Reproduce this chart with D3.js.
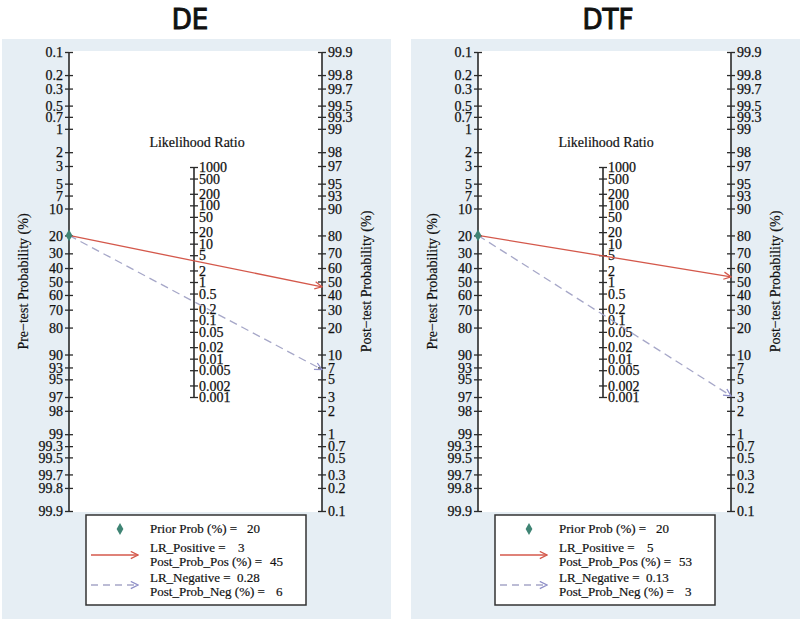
<!DOCTYPE html>
<html><head><meta charset="utf-8">
<script src="https://cdn.jsdelivr.net/npm/d3@7"></script>
<style>
html,body{margin:0;padding:0;background:#fff;}
svg{display:block;}
text{white-space:pre;}
</style></head>
<body>
<svg id="chart" width="800" height="623"></svg>
<script>
// ---- data ----
const panels = ["DE", "DTF"];
const priorProb = [20, 20];
const lrPositiveLabel = ["3", "5"];
const postProbPosLabel = ["45", "53"];
const lrNegativeLabel = ["0.28", "0.13"];
const postProbNegLabel = ["6", "3"];
// arrow end points (post-test %)
const postPosRead = [46, 53.5];
const postNegRead = [6.6, 3.1];

const preTicks = [0.1, 0.2, 0.3, 0.5, 0.7, 1, 2, 3, 5, 7, 10, 20, 30, 40, 50, 60, 70, 80, 90, 93, 95, 97, 98, 99, 99.3, 99.5, 99.7, 99.8, 99.9];
const postTicks = [99.9, 99.8, 99.7, 99.5, 99.3, 99, 98, 97, 95, 93, 90, 80, 70, 60, 50, 40, 30, 20, 10, 7, 5, 3, 2, 1, 0.7, 0.5, 0.3, 0.2, 0.1];
const lrTicks = [1000, 500, 200, 100, 50, 20, 10, 5, 2, 1, 0.5, 0.2, 0.1, 0.05, 0.02, 0.01, 0.005, 0.002, 0.001];

// ---- layout ----
const panelDx = [0, 409];
const titleX = [190, 608];
const xL = 69, xR = 322, xM = 194;
const yTop = 52, yBot = 511;
const lrTop = 167, lrBot = 397;
const axisColor = "#2a2a2a";
const serif = "'Liberation Serif','Times New Roman',serif";

const logit = p => Math.log((p / 100) / (1 - p / 100));

const svg = d3.select("#chart");

const defs = svg.append("defs");
function marker(id, color) {
  defs.append("marker").attr("id", id)
    .attr("viewBox", "0 0 10 10").attr("refX", 9).attr("refY", 5)
    .attr("markerWidth", 9).attr("markerHeight", 9)
    .attr("markerUnits", "userSpaceOnUse").attr("orient", "auto")
    .append("path").attr("d", "M1,1 L9,5 L1,9")
    .attr("fill", "none").attr("stroke", color).attr("stroke-width", 1.4);
}
const posColor = "#d4584b", negColor = "#a6a7c8", priorColor = "#3f8474";
marker("arrPos", posColor);
marker("arrNeg", "#8f8fc8");

const yPre = d3.scaleLinear().domain([logit(0.1), logit(99.9)]).range([yTop, yBot]);
const yPost = d3.scaleLinear().domain([logit(99.9), logit(0.1)]).range([yTop, yBot]);
const yLR = d3.scaleLog().domain([1000, 0.001]).range([lrTop, lrBot]);

function crossTicks(g, dir) {
  g.selectAll(".tick").append("line")
    .attr("x2", dir * 4).attr("stroke", axisColor).attr("stroke-width", 1.3);
}

panels.forEach((name, i) => {
  const g = svg.append("g").attr("transform", `translate(${panelDx[i]},0)`);
  // background
  g.append("rect").attr("x", 2).attr("y", 39).attr("width", 389).attr("height", 580).attr("fill", "#e6eef4");
  g.append("rect").attr("x", xL).attr("y", yTop - 1).attr("width", xR - xL).attr("height", yBot - yTop + 2).attr("fill", "#fff");

  // title
  svg.append("text").attr("x", titleX[i]).attr("y", 29).attr("text-anchor", "middle")
    .attr("font-family", "'DejaVu Sans Condensed','DejaVu Sans',sans-serif").attr("font-size", 29)
    .attr("font-stretch", "condensed").attr("fill", "#111")
    .attr("stroke", "#111").attr("stroke-width", 1).text(name);

  // left axis
  const gl = g.append("g").attr("transform", `translate(${xL},0)`)
    .call(d3.axisLeft(yPre).tickValues(preTicks.map(logit)).tickFormat((d, k) => String(preTicks[k])).tickSize(4).tickPadding(2));
  crossTicks(gl, 1);
  // right axis
  const gr = g.append("g").attr("transform", `translate(${xR},0)`)
    .call(d3.axisRight(yPost).tickValues(postTicks.map(logit)).tickFormat((d, k) => String(postTicks[k])).tickSize(4).tickPadding(2));
  crossTicks(gr, -1);
  // middle LR axis
  const gm = g.append("g").attr("transform", `translate(${xM},0)`)
    .call(d3.axisRight(yLR).tickValues(lrTicks).tickFormat(d => String(d)).tickSize(4).tickPadding(1));
  crossTicks(gm, -1);

  [gl, gr, gm].forEach(a => {
    const t0 = a === gm ? lrTop : yTop, t1 = a === gm ? lrBot : yBot;
    a.select(".domain").attr("stroke", axisColor).attr("stroke-width", 1.6).attr("d", `M0,${t0}V${t1}`);
    a.selectAll(".tick line").attr("stroke", axisColor).attr("stroke-width", 1.3);
    a.selectAll(".tick text").attr("font-family", serif).attr("font-size", 14).attr("fill", "#111")
      .attr("stroke", "#111").attr("stroke-width", 0.25).attr("dy", "0.33em");
  });

  // axis labels
  const lab = (x, y, s, rot) => g.append("text")
    .attr("transform", `translate(${x},${y})` + (rot ? " rotate(-90)" : ""))
    .attr("text-anchor", "middle").attr("font-family", serif).attr("font-size", 14).attr("fill", "#111")
    .attr("stroke", "#111").attr("stroke-width", 0.2).text(s);
  lab(28, (yTop + yBot) / 2, "Pre\u2212test Probability (%)", true);
  lab(371, (yTop + yBot) / 2, "Post\u2212test Probability (%)", true);
  lab(197, 147, "Likelihood Ratio", false);

  // lines
  const y0 = yPre(logit(priorProb[i]));
  g.append("line").attr("x1", xL).attr("y1", y0).attr("x2", xR).attr("y2", yPost(logit(postNegRead[i])))
    .attr("stroke", negColor).attr("stroke-width", 1.3).attr("stroke-dasharray", "8,5")
    .attr("marker-end", "url(#arrNeg)");
  g.append("line").attr("x1", xL).attr("y1", y0).attr("x2", xR).attr("y2", yPost(logit(postPosRead[i])))
    .attr("stroke", posColor).attr("stroke-width", 1.3).attr("marker-end", "url(#arrPos)");
  g.append("path").attr("d", d3.symbol().type(d3.symbolDiamond).size(40)())
    .attr("transform", `translate(${xL},${y0})`).attr("fill", priorColor);

  // legend
  const lg = g.append("g").attr("transform", "translate(86,515)");
  lg.append("rect").attr("width", 220).attr("height", 90).attr("fill", "#fff")
    .attr("stroke", "#333").attr("stroke-width", 1.5);
  lg.append("path").attr("d", d3.symbol().type(d3.symbolDiamond).size(40)())
    .attr("transform", "translate(34,14)").attr("fill", priorColor);
  lg.append("line").attr("x1", 5).attr("x2", 52).attr("y1", 40).attr("y2", 40)
    .attr("stroke", posColor).attr("stroke-width", 1.3).attr("marker-end", "url(#arrPos)");
  lg.append("line").attr("x1", 5).attr("x2", 52).attr("y1", 70).attr("y2", 70)
    .attr("stroke", negColor).attr("stroke-width", 1.3).attr("stroke-dasharray", "7,5")
    .attr("marker-end", "url(#arrNeg)");
  const lt = (x, y, s) => lg.append("text").attr("x", x).attr("y", y).attr("font-family", serif)
    .attr("font-size", 13).attr("fill", "#111").attr("stroke", "#111").attr("stroke-width", 0.2).text(s);
  lt(64, 18, "Prior Prob (%) =");
  lt(161, 18, String(priorProb[i]));
  lt(64, 37, "LR_Positive =");
  lt(152, 37, lrPositiveLabel[i]);
  lt(64, 51, "Post_Prob_Pos (%) =");
  lt(184, 51, postProbPosLabel[i]);
  lt(64, 67, "LR_Negative =");
  lt(151, 67, lrNegativeLabel[i]);
  lt(64, 81, "Post_Prob_Neg (%) =");
  lt(190, 81, postProbNegLabel[i]);
});
</script>
</body></html>
